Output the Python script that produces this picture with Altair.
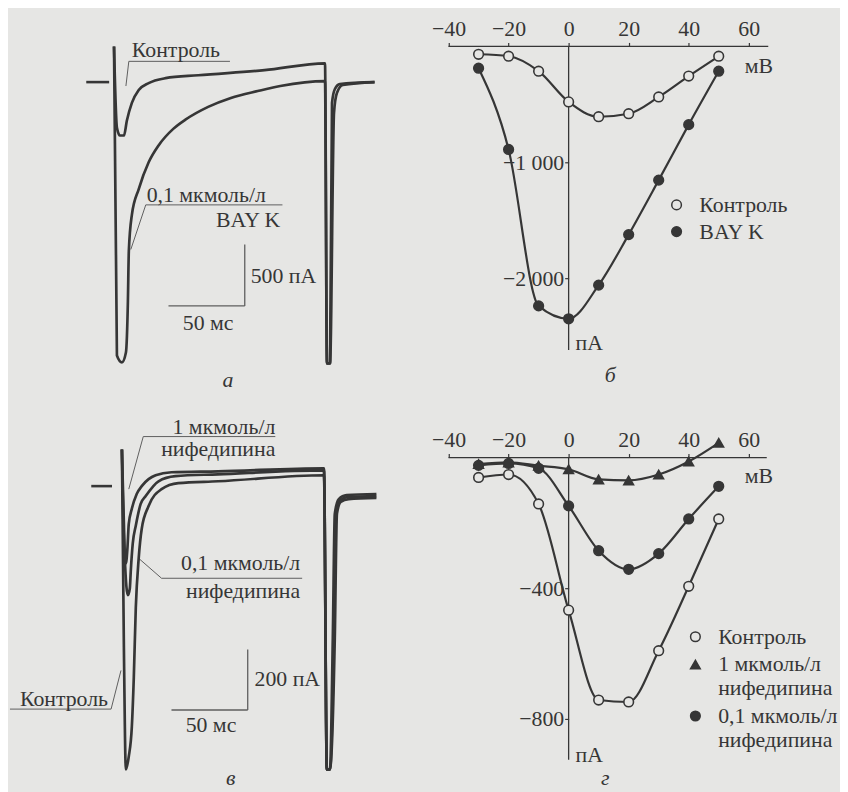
import altair as alt
import pandas as pd

FONT = "'Liberation Serif', 'Times New Roman', 'DejaVu Serif', serif"
INK = "#363636"
THIN = "#5e5e5e"
BG = "#e6e6e4"

# ------------------------------------------------------------------
# Panel а : Ca current traces, control vs 0,1 мкмоль/л BAY K (ms, pA)
# ------------------------------------------------------------------
a_ctrl_t = [0, 1.9, 3.9, 6.5, 8.4, 11.7, 16.2, 22.7, 33.8, 55.2, 98.7, 138.3,
            139.6, 141.6, 142.9, 144.8, 148.0, 170.8]
a_ctrl_i = [290, -371, -435, -435, -315, -169, -65, -8, 32, 56, 97, 153,
            -2290, -2290, -169, -56, -16, 0]
a_bay_t = [0, 1.9, 5.2, 7.8, 9.1, 9.7, 11.7, 16.2, 22.7, 29.2, 39.0, 46.8, 61.7,
           76.6, 94.2, 109.0, 138.3, 139.6, 141.6, 144.2, 146.1, 150.0, 170.8]
a_bay_i = [290, -2226, -2282, -2202, -1782, -1379, -1081, -871, -653, -516, -379,
           -306, -202, -129, -73, -32, 8, -2290, -2290, -250, -89, -24, 0]

a_text = ["Контроль", "0,1 мкмоль/л", "BAY K", "500 пА", "50 мс", "а"]
a_text_t = [11.7, 21.4, 109.0, 89.6, 61.7, 74.7]
a_text_i = [258, -919, -1121, -1581, -1960, -2427]
a_text_align = ["left", "left", "right", "left", "center", "center"]
a_text_italic = [0, 0, 0, 0, 0, 1]

# lines: baseline marker, scale bars (50 мс / 500 пА), label underlines and leaders
a_rule_t = [-18.2, 35.7, 85.7, 9.7, 9.7, 20.8, 20.8]
a_rule_t2 = [-3.2, 85.7, 85.7, 76.0, 7.8, 110.4, 11.0]
a_rule_i = [0, -1823, -1823, 169, 169, -1000, -1000]
a_rule_i2 = [0, -1823, -1323, 169, -32, -1000, -1363]
a_rule_kind = ["base", "bar", "bar", "thin", "thin", "thin", "thin"]

# ------------------------------------------------------------------
# Panel б : I-V relation, Контроль vs BAY K (мВ, пА)
# ------------------------------------------------------------------
iv_v = [-30, -20, -10, 0, 10, 20, 30, 40, 50]
b_ctrl = [-68, -85, -214, -479, -607, -581, -436, -256, -85]
b_bay = [-188, -889, -2239, -2350, -2060, -1624, -1154, -675, -214]
b_names = ["Контроль", "BAY K"]
b_yticks = [-1000, -2000]
b_ylabels = ["−1 000", "−2 000"]
b_text = ["мВ", "пА", "б"]
b_text_v = [58.7, 2.3, 13.9]
b_text_i = [-171, -2564, -2838]
b_text_align = ["left", "left", "center"]
b_text_italic = [0, 0, 1]
b_axis_v = [-40, 66.5]
b_axis_i = [0, -2620]

# ------------------------------------------------------------------
# Panel в : traces, control vs nifedipine (ms, pA)
# ------------------------------------------------------------------
c_n1_t = [0, 1.3, 2.6, 3.6, 4.5, 6.5, 9.7, 13.0, 17.5, 22.1, 32.5, 63.0, 132.5,
          134.4, 136.4, 138.3, 139.6, 142.2, 147.4, 166.9]
c_n1_i = [121, -174, -256, -207, -125, -75, -26, 0, 23, 36, 46, 49, 59,
          -938, -938, -502, -92, -43, -30, -26]
c_n01_t = [0, 1.9, 3.9, 5.2, 5.8, 7.1, 9.1, 12.3, 15.6, 24.0, 35.1, 63.0, 132.5,
           134.4, 136.4, 139.0, 140.3, 143.0, 148.1, 166.9]
c_n01_i = [121, -239, -361, -338, -282, -190, -131, -59, -33, 16, 33, 39, 52,
           -938, -938, -502, -92, -49, -36, -33]
c_ctrl_t = [0, 1.3, 2.6, 4.5, 6.5, 7.8, 9.1, 11.0, 13.0, 17.5, 26.0, 37.0, 63.0,
            132.5, 134.4, 136.4, 139.6, 141.0, 143.5, 148.7, 166.9]
c_ctrl_i = [121, -534, -938, -895, -797, -633, -403, -239, -141, -66, -10, 10, 16,
            36, -938, -938, -502, -92, -52, -43, -39]

c_text = ["1 мкмоль/л", "нифедипина", "0,1 мкмоль/л", "нифедипина", "Контроль",
          "200 пА", "50 мс", "в"]
c_text_t = [100.6, 100.6, 116.9, 116.9, -9.1, 87.0, 58.4, 71.4]
c_text_i = [197, 121, -256, -348, -705, -639, -790, -965]
c_text_align = ["right", "right", "right", "right", "right", "left", "center", "center"]
c_text_italic = [0, 0, 0, 0, 0, 0, 0, 1]

c_rule_t = [-20.1, 32.5, 82.5, 14.0, 14.0, 26.0, 26.0, -73.4, -7.1]
c_rule_t2 = [-6.5, 82.5, 82.5, 100.6, 4.5, 118.2, 11.0, -7.1, -0.6]
c_rule_i = [0, -741, -741, 164, 164, -305, -305, -738, -738]
c_rule_i2 = [0, -741, -541, 164, -10, -305, -239, -738, -610]
c_rule_kind = ["base", "bar", "bar", "thin", "thin", "thin", "thin", "thin", "thin"]

# ------------------------------------------------------------------
# Panel г : I-V relation, control vs nifedipine (мВ, пА)
# ------------------------------------------------------------------
d_ctrl = [-61, -52, -142, -467, -742, -748, -591, -394, -188]
d_n1 = [-20, -15, -25, -36, -67, -70, -52, -12, 45]
d_n01 = [-24, -18, -33, -148, -285, -342, -294, -188, -88]
d_names = ["Контроль", "1 мкмоль/л\nнифедипина", "0,1 мкмоль/л\nнифедипина"]
d_yticks = [-400, -800]
d_ylabels = ["−400", "−800"]
d_text = ["мВ", "пА", "г"]
d_text_v = [58.7, 2.3, 12.2]
d_text_i = [-58, -909, -980]
d_text_align = ["left", "left", "center"]
d_text_italic = [0, 0, 1]
d_axis_v = [-40, 66.0]
d_axis_i = [0, -925]

iv_xticks = [-40, -20, 0, 20, 40, 60]

# ------------------------------------------------------------------
# layout (each panel fills one quarter of the figure)
# ------------------------------------------------------------------
WL, WR, H = 416, 424, 392
a_xdom, a_ydom = [-69.5, 200.6], [-2589, 573]
c_xdom, c_ydom = [-74.7, 195.5], [-1000, 285]
b_xdom, b_ydom = [-49.5, 90.4], [-3051, 299]
d_xdom, d_ydom = [-49.5, 90.4], [-1012, 176]
FS = 22


def sc(dom):
    return alt.Scale(domain=dom, nice=False, zero=False)


def text_layers(df, X, Y, size=FS):
    out = []
    for (al, it), g in df.groupby(["align", "italic"]):
        out.append(
            alt.Chart(g).mark_text(
                align=al, baseline="middle", font=FONT, fontSize=size,
                fontStyle="italic" if it else "normal", color=INK,
            ).encode(x=X, y=Y, text="text:N")
        )
    return out


def rule_layers(df, X, Y):
    styles = {"base": (INK, 2.6), "bar": (THIN, 1.3), "thin": (THIN, 1.0)}
    out = []
    for kind, g in df.groupby("kind"):
        col, w = styles[kind]
        out.append(
            alt.Chart(g).mark_rule(color=col, strokeWidth=w).encode(
                x=X, y=Y, x2="x2:Q", y2="y2:Q")
        )
    return out


def trace_panel(traces, texts, rules, xdom, ydom, W):
    X = alt.X("x:Q", scale=sc(xdom), axis=None)
    Y = alt.Y("y:Q", scale=sc(ydom), axis=None)
    frames = []
    for name, ts, vs in traces:
        frames.append(pd.DataFrame({"x": ts, "y": vs, "trace": name,
                                    "k": list(range(len(ts)))}))
    tdf_ = pd.concat(frames, ignore_index=True)
    lines = alt.Chart(tdf_).mark_line(
        color=INK, strokeWidth=2.7, interpolate="monotone", strokeJoin="round"
    ).encode(x=X, y=Y, detail="trace:N", order="k:Q")
    layers = rule_layers(rules, X, Y) + [lines] + text_layers(texts, X, Y)
    return alt.layer(*layers).properties(width=W, height=H)


def iv_panel(series, names, shapes, fills, xdom, ydom, W, yticks, ylabels,
             texts, axis_v, axis_i, legend):
    xoff = -H * ydom[1] / (ydom[1] - ydom[0])
    yoff = -W * (0 - xdom[0]) / (xdom[1] - xdom[0])
    expr = "'" + ylabels[-1] + "'"
    for v, l in zip(yticks[:-1][::-1], ylabels[:-1][::-1]):
        expr = f"datum.value == {v} ? '{l}' : " + expr
    xax = alt.Axis(orient="top", offset=xoff, domain=False, grid=False,
                   values=iv_xticks, tickSize=4, tickColor=INK, tickWidth=1.2,
                   labelFont=FONT, labelFontSize=FS, labelColor=INK,
                   labelPadding=2, title=None, labelOverlap=False,
                   labelFlush=False, labelBound=False)
    yax = alt.Axis(orient="left", offset=yoff, domain=False, grid=False,
                   values=yticks, labelExpr=expr, tickSize=4, tickColor=INK,
                   tickWidth=1.2, labelFont=FONT, labelFontSize=FS,
                   labelColor=INK, labelPadding=1, title=None,
                   labelOverlap=False, labelFlush=False, labelBound=False)
    X = alt.X("x:Q", scale=sc(xdom), axis=xax)
    Y = alt.Y("y:Q", scale=sc(ydom), axis=yax)

    frames = []
    for name, vals in zip(names, series):
        frames.append(pd.DataFrame({"x": iv_v, "y": vals, "series": name}))
    df = pd.concat(frames, ignore_index=True)

    axdf = pd.DataFrame({"x": [axis_v[0], 0], "x2": [axis_v[1], 0],
                         "y": [0, axis_i[0]], "y2": [0, axis_i[1]]})
    axes = alt.Chart(axdf).mark_rule(color=INK, strokeWidth=1.3).encode(
        x=X, y=Y, x2="x2:Q", y2="y2:Q")
    lines = alt.Chart(df).mark_line(
        color=INK, strokeWidth=2.2, interpolate="monotone"
    ).encode(x=X, y=Y, detail="series:N")
    pts = alt.Chart(df).mark_point(
        size=95, strokeWidth=1.6, opacity=1, fillOpacity=1
    ).encode(
        x=X, y=Y,
        fill=alt.Fill("series:N", scale=alt.Scale(domain=names, range=fills),
                      legend=legend),
        shape=alt.Shape("series:N", scale=alt.Scale(domain=names, range=shapes),
                        legend=legend),
        stroke=alt.Stroke("series:N",
                          scale=alt.Scale(domain=names, range=[INK] * len(names)),
                          legend=legend),
    )
    layers = [axes, lines, pts] + text_layers(texts, X, Y)
    return alt.layer(*layers).properties(width=W, height=H)


def tdf(txt, xs, ys, al, it):
    return pd.DataFrame({"text": txt, "x": xs, "y": ys, "align": al, "italic": it})


def rdf(x, x2, y, y2, kind):
    return pd.DataFrame({"x": x, "x2": x2, "y": y, "y2": y2, "kind": kind})


pa = trace_panel(
    [("ctrl", a_ctrl_t, a_ctrl_i), ("bay", a_bay_t, a_bay_i)],
    tdf(a_text, a_text_t, a_text_i, a_text_align, a_text_italic),
    rdf(a_rule_t, a_rule_t2, a_rule_i, a_rule_i2, a_rule_kind),
    a_xdom, a_ydom, WL)

pc = trace_panel(
    [("ctrl", c_ctrl_t, c_ctrl_i), ("n01", c_n01_t, c_n01_i), ("n1", c_n1_t, c_n1_i)],
    tdf(c_text, c_text_t, c_text_i, c_text_align, c_text_italic),
    rdf(c_rule_t, c_rule_t2, c_rule_i, c_rule_i2, c_rule_kind),
    c_xdom, c_ydom, WL)

leg_common = dict(orient="none", title=None, labelFont=FONT, labelFontSize=FS,
                  labelColor=INK, symbolSize=95, symbolStrokeColor=INK,
                  symbolStrokeWidth=1.5, labelOffset=12, padding=0,
                  labelLimit=400)

pb = iv_panel([b_ctrl, b_bay], b_names, ["circle", "circle"], [BG, INK],
              b_xdom, b_ydom, WR, b_yticks, b_ylabels,
              tdf(b_text, b_text_v, b_text_i, b_text_align, b_text_italic),
              b_axis_v, b_axis_i,
              alt.Legend(legendX=248, legendY=184, rowPadding=5, **leg_common))

pd_ = iv_panel([d_ctrl, d_n1, d_n01], d_names,
               ["circle", "triangle-up", "circle"], [BG, INK, INK],
               d_xdom, d_ydom, WR, d_yticks, d_ylabels,
               tdf(d_text, d_text_v, d_text_i, d_text_align, d_text_italic),
               d_axis_v, d_axis_i,
               alt.Legend(legendX=267, legendY=228, rowPadding=6,
                          labelExpr="split(datum.label, '\\n')", **leg_common))

chart = (
    alt.concat(pa, pb, pc, pd_, columns=2, spacing=0, bounds="flush")
    .resolve_scale(fill="independent", shape="independent", stroke="independent")
    .resolve_legend(fill="independent", shape="independent", stroke="independent")
    .properties(padding=0, background=BG)
    .configure_view(stroke=None)
)

chart.save("out.html", embed_options={"renderer": "svg", "actions": False})
